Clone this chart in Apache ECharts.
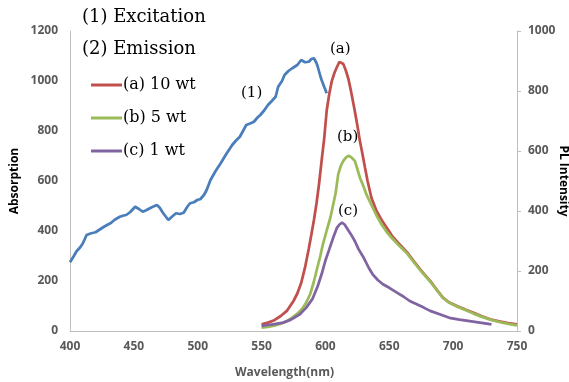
<!DOCTYPE html>
<html><head><meta charset="utf-8">
<script src="https://cdn.jsdelivr.net/npm/echarts@6/dist/echarts.min.js"></script>
<style>html,body{margin:0;padding:0;background:#fff}#c{width:569px;height:382px}</style>
</head><body><div id="c"></div>
<script>
// Tick labels / axis settings
const xTicks = [400, 450, 500, 550, 600, 650, 700, 750];
const leftTicks = [0, 200, 400, 600, 800, 1000, 1200];
const rightTicks = [0, 200, 400, 600, 800, 1000];

// (1) Excitation (Absorption, left axis)
const excWl = [400,403,405,408,410,413,416,420,423,426,429,432,435,439,442,444,447,451,454,457,460,464,468,470,473,477,480,483,486,489,492,494,497,500,502,505,507,510,514,518,522,527,530,533,536,538,541,544,547,549,552,555,558,561,563,566,568,571,574,578,581,584,587,589,591,593,594,596,597,599,601];
const excVal = [275,300,318,335,350,384,390,395,405,415,424,432,445,457,462,464,475,497,488,477,484,495,504,495,471,444,458,471,468,473,498,511,515,525,527,545,564,604,640,671,705,744,762,777,805,824,830,837,855,864,882,904,920,937,977,1000,1024,1040,1051,1064,1084,1075,1077,1088,1091,1072,1057,1020,1004,977,951];

// (2) Emission (PL Intensity, right axis)
const aWl = [550,555,560,565,570,575,578,581,584,587,589,591,593,595,597,599,601,603,605,607,609,611,612,614,616,618,620,623,625,627,629,631,633,636,640,644,648,652,658,664,670,676,682,688,692,697,703,710,716,722,729,736,743,750];
const aVal = [22,28,36,50,68,100,125,160,211,275,322,370,425,490,567,640,735,790,833,860,880,897,900,890,868,840,800,733,685,633,590,544,500,444,400,370,344,318,289,262,228,196,167,133,111,95,83,71,61,50,39,32,26,22];
const bWl = [550,555,560,565,570,575,578,582,585,588,591,593,596,598,601,604,606,608,610,612,614,616,618,620,623,625,627,630,632,636,640,644,648,652,658,664,670,676,682,688,692,697,703,710,716,722,729,736,743,750];
const bVal = [11,14,18,24,33,48,58,75,95,122,165,200,250,289,335,380,420,460,522,550,567,578,584,580,567,540,511,480,456,420,385,355,330,310,283,258,225,194,165,132,110,94,82,69,58,48,38,30,24,19];
const cWl = [550,555,560,567,573,580,585,590,594,597,600,603,606,609,611,613,615,617,620,623,626,630,634,637,641,645,650,656,661,666,672,677,682,690,697,705,713,721,730];
const cVal = [17,20,23,28,38,56,78,108,150,189,235,272,310,344,355,361,355,342,322,300,272,244,210,189,170,156,144,128,115,100,88,78,67,55,44,38,33,28,22];

const zip = (w, v) => w.map((x, i) => [x, v[i]]);
const sans = 'Open Sans';
const lblStyle = {color:'#595959', fontWeight:'bold', fontSize:12, fontFamily:sans, formatter:v => String(v)};
const serif = 'DejaVu Serif';

const chart = echarts.init(document.getElementById('c'), null, {renderer:'canvas'});
chart.setOption({
  animation:false,
  backgroundColor:'#fff',
  grid:{left:70, right:52, top:31, bottom:51, containLabel:false, outerBoundsMode:'none'},
  xAxis:{
    type:'value', min:xTicks[0], max:xTicks[xTicks.length-1], interval:50,
    name:'Wavelength(nm)', nameLocation:'middle', nameGap:36, nameMoveOverlap:false,
    nameTextStyle:{color:'#595959', fontWeight:'bold', fontSize:12, fontFamily:sans, padding:[0,18,0,0]},
    axisLine:{lineStyle:{color:'#bfbfbf'}}, axisTick:{show:false},
    axisLabel:Object.assign({margin:10}, lblStyle), splitLine:{show:false}
  },
  yAxis:[{
    type:'value', min:leftTicks[0], max:leftTicks[leftTicks.length-1], interval:200,
    name:'Absorption', nameLocation:'middle', nameGap:49, nameMoveOverlap:false,
    nameTextStyle:{color:'#000', fontWeight:'bold', fontSize:12, fontFamily:sans},
    axisLine:{show:true, lineStyle:{color:'#bfbfbf'}}, axisTick:{show:false},
    axisLabel:Object.assign({margin:12}, lblStyle), splitLine:{show:false}
  },{
    type:'value', min:rightTicks[0], max:rightTicks[rightTicks.length-1], interval:200, position:'right',
    name:'PL Intensity', nameLocation:'middle', nameGap:40, nameRotate:-90, nameMoveOverlap:false,
    nameTextStyle:{color:'#000', fontWeight:'bold', fontSize:12, fontFamily:sans},
    axisLine:{show:true, lineStyle:{color:'#bfbfbf'}}, axisTick:{show:true, length:4, lineStyle:{color:'#bfbfbf'}},
    axisLabel:Object.assign({margin:11}, lblStyle), splitLine:{show:false}
  }],
  legend:{
    orient:'vertical', left:86, top:72, itemWidth:31, itemHeight:3, itemGap:17,
    icon:'rect',
    data:['(a) 10 wt','(b) 5 wt','(c) 1 wt'],
    textStyle:{fontFamily:serif, fontSize:16, color:'#000', padding:[0,0,0,-4]}
  },
  graphic:[
    {type:'text', left:82, top:8, style:{text:'(1) Excitation', font:'18px "DejaVu Serif"', fill:'#000'}},
    {type:'text', left:82, top:40, style:{text:'(2) Emission', font:'18px "DejaVu Serif"', fill:'#000'}},
    {type:'text', left:241, top:86, style:{text:'(1)', font:'15px "DejaVu Serif"', fill:'#000'}},
    {type:'text', left:330, top:42, style:{text:'(a)', font:'15px "DejaVu Serif"', fill:'#000'}},
    {type:'text', left:337, top:130, style:{text:'(b)', font:'15px "DejaVu Serif"', fill:'#000'}},
    {type:'text', left:338, top:204, style:{text:'(c)', font:'15px "DejaVu Serif"', fill:'#000'}}
  ],
  series:[
    {name:'(1) Excitation', type:'line', yAxisIndex:0, symbol:'none', data:zip(excWl, excVal),
     lineStyle:{color:'#4A7EBB', width:2.75}, itemStyle:{color:'#4A7EBB'}},
    {name:'(a) 10 wt', type:'line', yAxisIndex:1, symbol:'none', data:zip(aWl, aVal),
     lineStyle:{color:'#C0504D', width:2.75}, itemStyle:{color:'#C0504D'}},
    {name:'(b) 5 wt', type:'line', yAxisIndex:1, symbol:'none', data:zip(bWl, bVal),
     lineStyle:{color:'#9BBB59', width:2.75}, itemStyle:{color:'#9BBB59'}},
    {name:'(c) 1 wt', type:'line', yAxisIndex:1, symbol:'none', data:zip(cWl, cVal),
     lineStyle:{color:'#8064A2', width:2.75}, itemStyle:{color:'#8064A2'}}
  ]
});
</script></body></html>
